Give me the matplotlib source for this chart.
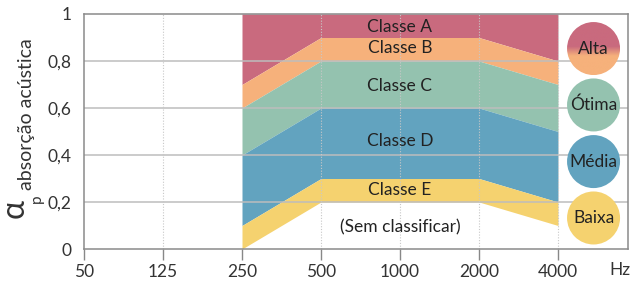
import numpy as np
import matplotlib
matplotlib.use("Agg")
import matplotlib.pyplot as plt
from matplotlib.patches import Ellipse
from matplotlib.colors import LinearSegmentedColormap

plt.rcParams["font.family"] = ["Lato", "DejaVu Sans"]

# frequency bands (categorical positions)
freq_labels = ["50", "125", "250", "500", "1000", "2000", "4000"]
# class boundaries at 250, 500, 2000, 4000 Hz
band_freqs = ["250", "500", "2000", "4000"]
bound_A = [0.7, 0.9, 0.9, 0.8]   # lower limit of class A
bound_B = [0.6, 0.8, 0.8, 0.7]
bound_C = [0.4, 0.6, 0.6, 0.5]
bound_D = [0.1, 0.3, 0.3, 0.2]
bound_E = [0.0, 0.2, 0.2, 0.1]

class_names = ["Classe A", "Classe B", "Classe C", "Classe D", "Classe E", "(Sem classificar)"]
class_label_y = [0.946, 0.855, 0.695, 0.46, 0.25, 0.09]

colors = {
    "A": "#c96a7e",
    "B": "#f6b17b",
    "C": "#94c2af",
    "D": "#62a3bf",
    "E": "#f5d26f",
}

legend_names = ["Alta", "Ótima", "Média", "Baixa"]
legend_y = [0.853, 0.613, 0.372, 0.132]
legend_colors = [None, colors["C"], colors["D"], colors["E"]]

W, H = 631, 290
fig = plt.figure(figsize=(W / 100, H / 100), dpi=100)
ax_l, ax_r, ax_t, ax_b = 84, 628, 14, 249
ax = fig.add_axes([ax_l / W, 1 - ax_b / H, (ax_r - ax_l) / W, (ax_b - ax_t) / H])
px_per_x = 79.0
xmax = (ax_r - ax_l) / px_per_x

xpos = {f: i for i, f in enumerate(freq_labels)}
bx = [xpos[f] for f in band_freqs]

ax.fill_between(bx, bound_A, 1.0, color=colors["A"], lw=0, zorder=1)
ax.fill_between(bx, bound_B, bound_A, color=colors["B"], lw=0, zorder=1)
ax.fill_between(bx, bound_C, bound_B, color=colors["C"], lw=0, zorder=1)
ax.fill_between(bx, bound_D, bound_C, color=colors["D"], lw=0, zorder=1)
ax.fill_between(bx, bound_E, bound_D, color=colors["E"], lw=0, zorder=1)

# grid
for yv in np.arange(0.2, 1.0, 0.2):
    ax.axhline(yv, color="#bdbdbd", lw=1.1, zorder=2)
for f in ["125", "500", "1000", "2000", "4000"]:
    ax.axvline(xpos[f], color="#c8c8c8", lw=0.8, ls=(0, (1, 1.5)), zorder=2)

lab_x = xpos["1000"]
for name, yv in zip(class_names, class_label_y):
    ax.text(lab_x, yv, name, ha="center", va="center", fontsize=12.5, color="#222222", zorder=4)

# legend circles
cx = 6.45
r_px = 26.5
w = 2 * r_px / px_per_x
h = 2 * r_px / (ax_b - ax_t)
for name, yv, c in zip(legend_names, legend_y, legend_colors):
    if c is None:
        circ = Ellipse((cx, yv), w, h, facecolor="none", edgecolor="none", zorder=3)
        ax.add_patch(circ)
        cmap = LinearSegmentedColormap.from_list(
            "alta", [(0, colors["B"]), (0.36, colors["B"]), (0.54, colors["A"]), (1, colors["A"])])
        grad = np.linspace(0, 1, 256).reshape(-1, 1)
        im = ax.imshow(grad, cmap=cmap, origin="lower", aspect="auto",
                       extent=[cx - w / 2, cx + w / 2, yv - h / 2, yv + h / 2], zorder=3)
        im.set_clip_path(circ)
    else:
        ax.add_patch(Ellipse((cx, yv), w, h, facecolor=c, edgecolor="none", zorder=3))
    ax.text(cx, yv, name, ha="center", va="center", fontsize=12.5, color="#222222", zorder=4)
ax.set_xlim(0, xmax)
ax.set_ylim(0, 1)

ax.set_xticks(range(len(freq_labels)))
ax.set_xticklabels(freq_labels)
ax.set_yticks([0, 0.2, 0.4, 0.6, 0.8, 1.0])
ax.set_yticklabels(["0", "0,2", "0,4", "0,6", "0,8", "1"])
ax.tick_params(axis="x", length=8, width=1, color="#888888", labelsize=12.5,
               labelcolor="#333333", pad=3)
ax.tick_params(axis="y", length=0, labelsize=12.5, labelcolor="#333333", pad=9)
for s in ax.spines.values():
    s.set_color("#8a8a8a")
    s.set_linewidth(1.1)
    s.set_zorder(5)

fig.text(620 / W, 1 - 270 / H, "Hz", ha="center", va="center", fontsize=12.5, color="#333333")

# y-axis label: alpha_p absorção acústica
fig.text(15 / W, 1 - 209 / H, "α", rotation=90, ha="center", va="center",
         fontsize=23, color="#333333")
fig.text(37 / W, 1 - 199 / H, "p", rotation=90, ha="center", va="center",
         fontsize=11, color="#333333")
fig.text(27 / W, 1 - 190 / H, "absorção acústica", rotation=90, ha="center", va="bottom",
         fontsize=14, color="#333333")

fig.savefig("out.png", dpi=100)
